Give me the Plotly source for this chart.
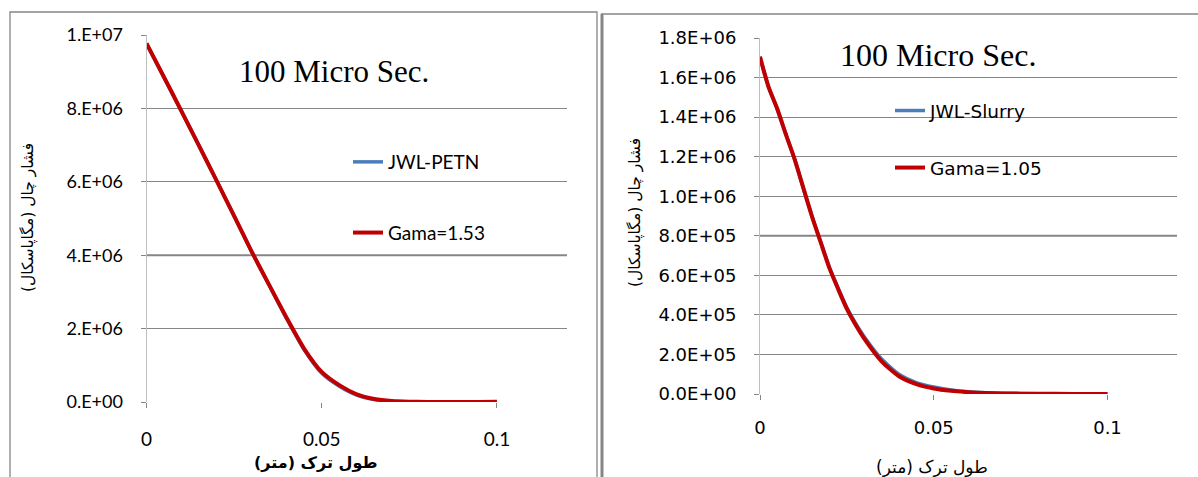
import plotly.graph_objects as go

# ---------------- data ----------------
x_left = [0, 0.005, 0.01, 0.015, 0.02, 0.025, 0.03, 0.035, 0.04, 0.045, 0.05,
          0.055, 0.06, 0.065, 0.07, 0.075, 0.08, 0.085, 0.09, 0.095, 0.1]
petn_jwl = [9.77e6, 8.85e6, 7.92e6, 6.98e6, 6.03e6, 5.07e6, 4.10e6, 3.18e6, 2.27e6, 1.42e6, 0.78e6,
            0.43e6, 0.19e6, 0.07e6, 0.02e6, 0.006e6, 0.003e6, 0.002e6, 0.002e6, 0.003e6, 0.005e6]
petn_gama = [9.77e6, 8.85e6, 7.92e6, 6.98e6, 6.03e6, 5.07e6, 4.10e6, 3.19e6, 2.29e6, 1.45e6, 0.82e6,
             0.46e6, 0.21e6, 0.08e6, 0.025e6, 0.008e6, 0.003e6, 0.002e6, 0.002e6, 0.003e6, 0.005e6]

x_right = [0, 0.001, 0.0025, 0.005, 0.0075, 0.01, 0.0125, 0.015, 0.0175, 0.02, 0.0225, 0.025,
           0.0275, 0.03, 0.035, 0.04, 0.045, 0.05, 0.055, 0.06, 0.065, 0.07, 0.08, 0.09, 0.1]
slurry_jwl = [1.705e6, 1.64e6, 1.55e6, 1.44e6, 1.31e6, 1.185e6, 1.04e6, 0.897e6, 0.768e6, 0.64e6, 0.535e6, 0.437e6,
              0.358e6, 0.29e6, 0.177e6, 0.10e6, 0.058e6, 0.035e6, 0.02e6, 0.011e6, 0.006e6, 0.004e6, 0.0015e6, 0.0007e6, 0.0]
slurry_gama = [1.705e6, 1.64e6, 1.55e6, 1.44e6, 1.31e6, 1.185e6, 1.04e6, 0.895e6, 0.765e6, 0.635e6, 0.53e6, 0.43e6,
               0.35e6, 0.28e6, 0.165e6, 0.09e6, 0.05e6, 0.028e6, 0.016e6, 0.009e6, 0.005e6, 0.003e6, 0.001e6, 0.0005e6, 0.0]

x_tickvals = [0, 0.05, 0.1]
x_ticktext = ["0", "0.05", "0.1"]
left_tickvals = [0, 2e6, 4e6, 6e6, 8e6, 1e7]
left_ticktext = ["0.E+00", "2.E+06", "4.E+06", "6.E+06", "8.E+06", "1.E+07"]
right_tickvals = [0, 2e5, 4e5, 6e5, 8e5, 1e6, 1.2e6, 1.4e6, 1.6e6, 1.8e6]
right_ticktext = ["0.0E+00", "2.0E+05", "4.0E+05", "6.0E+05", "8.0E+05",
                  "1.0E+06", "1.2E+06", "1.4E+06", "1.6E+06", "1.8E+06"]

title_text = "100 Micro Sec."
y_title = "فشار چال (مگاپاسکال)"
x_title = "طول ترک (متر)"

# ---------------- style ----------------
W, H = 1198, 477
BLUE = "#4A7EBB"
RED = "#C00000"
GRID = "#868686"

def px(xp):
    return xp / W

def py(yp):
    return 1 - yp / H

fig = go.Figure()

fig.add_trace(go.Scatter(x=x_left, y=petn_jwl, mode="lines", name="JWL-PETN",
                         line=dict(color=BLUE, width=3.5, shape="spline", smoothing=0.6),
                         xaxis="x", yaxis="y", legend="legend", legendgroup="a"))
fig.add_trace(go.Scatter(x=x_left, y=petn_gama, mode="lines", name="Gama=1.53",
                         line=dict(color=RED, width=4, shape="spline", smoothing=0.6),
                         xaxis="x", yaxis="y", legend="legend", legendgroup="b"))
fig.add_trace(go.Scatter(x=x_right, y=slurry_jwl, mode="lines", name="JWL-Slurry",
                         line=dict(color=BLUE, width=3.5, shape="spline", smoothing=0.6),
                         xaxis="x2", yaxis="y2", legend="legend2", legendgroup="c"))
fig.add_trace(go.Scatter(x=x_right, y=slurry_gama, mode="lines", name="Gama=1.05",
                         line=dict(color=RED, width=4, shape="spline", smoothing=0.6),
                         xaxis="x2", yaxis="y2", legend="legend2", legendgroup="d"))

left_yfont = dict(family="Lato", size=18, color="#000000")
left_xfont = dict(family="Lato", size=19, color="#000000")
right_font = dict(family="DejaVu Sans", size=18, color="#000000")

common_x = dict(range=[0, 0.12], tickvals=x_tickvals, ticktext=x_ticktext,
                showgrid=False, zeroline=False, showline=False, automargin=False,
                ticks="outside", ticklen=5, tickcolor=GRID)
common_y = dict(showgrid=True, gridcolor=GRID, gridwidth=1, zeroline=False,
                showline=True, linecolor="#BFBFBF", linewidth=1, automargin=False,
                ticks="outside", ticklen=5, tickcolor=GRID)

fig.update_layout(
    width=W, height=H,
    margin=dict(l=0, r=0, t=0, b=0, autoexpand=False),
    paper_bgcolor="white", plot_bgcolor="white",
    xaxis=dict(domain=[px(146.5), px(567)], anchor="y", tickfont=left_xfont,
               ticklabelstandoff=15, **common_x),
    yaxis=dict(domain=[py(402), py(35)], anchor="x", range=[0, 1e7],
               tickvals=left_tickvals, ticktext=left_ticktext, tickfont=left_yfont,
               ticklabelstandoff=14, **common_y),
    xaxis2=dict(domain=[px(760), px(1177)], anchor="y2", tickfont=right_font,
                ticklabelstandoff=12, **common_x),
    yaxis2=dict(domain=[py(394), py(38)], anchor="x2", range=[0, 1.8e6],
                tickvals=right_tickvals, ticktext=right_ticktext, tickfont=right_font,
                ticklabelstandoff=14, **common_y),
    legend=dict(x=px(348), y=py(143), xanchor="left", yanchor="top",
                bgcolor="rgba(0,0,0,0)", font=dict(family="Lato", size=19, color="#000"),
                tracegroupgap=43, itemwidth=30),
    legend2=dict(x=px(890), y=py(92), xanchor="left", yanchor="top",
                 bgcolor="rgba(0,0,0,0)", font=dict(family="DejaVu Sans", size=18.5, color="#000"),
                 tracegroupgap=30, itemwidth=30),
    showlegend=True,
)

# Titles and axis titles
annotations = [
    dict(text=title_text, x=px(334), y=py(72), xref="paper", yref="paper",
         xanchor="center", yanchor="middle",
         showarrow=False, font=dict(family="Liberation Serif", size=31, color="#000")),
    dict(text=title_text, x=px(938), y=py(55), xref="paper", yref="paper",
         xanchor="center", yanchor="middle",
         showarrow=False, font=dict(family="Liberation Serif", size=32, color="#000")),
    dict(text=y_title, x=px(28), y=py(218), xref="paper", yref="paper", textangle=-90,
         xanchor="center", yanchor="middle",
         showarrow=False, font=dict(family="DejaVu Sans", size=15.5, color="#000")),
    dict(text=y_title, x=px(635), y=py(213), xref="paper", yref="paper", textangle=-90,
         xanchor="center", yanchor="middle",
         showarrow=False, font=dict(family="DejaVu Sans", size=15.5, color="#000")),
    dict(text="<b>" + x_title + "</b>", x=px(315), y=py(462), xref="paper", yref="paper",
         xanchor="center", yanchor="middle",
         showarrow=False, font=dict(family="DejaVu Sans", size=16, color="#000")),
    dict(text=x_title, x=px(932), y=py(467), xref="paper", yref="paper",
         xanchor="center", yanchor="middle",
         showarrow=False, font=dict(family="DejaVu Sans", size=17, color="#000")),
]
fig.update_layout(annotations=annotations)

shapes = [
    # left chart border
    dict(type="rect", xref="paper", yref="paper", x0=px(10), x1=px(597), y0=-0.05, y1=py(12),
         line=dict(color=GRID, width=1.3), layer="below"),
    # right chart border (thick left edge + top)
    dict(type="line", xref="paper", yref="paper", x0=px(602), x1=px(602), y0=-0.05, y1=py(14),
         line=dict(color=GRID, width=3)),
    dict(type="line", xref="paper", yref="paper", x0=px(601), x1=1.0, y0=py(14), y1=py(14),
         line=dict(color=GRID, width=1.3)),
    # heavier gridlines
    dict(type="line", xref="x domain", yref="y", x0=0, x1=1, y0=4e6, y1=4e6,
         line=dict(color=GRID, width=2), layer="below"),
    dict(type="line", xref="x2 domain", yref="y2", x0=0, x1=1, y0=8e5, y1=8e5,
         line=dict(color=GRID, width=2), layer="below"),
]
fig.update_layout(shapes=shapes)

fig.write_html("out.html")
